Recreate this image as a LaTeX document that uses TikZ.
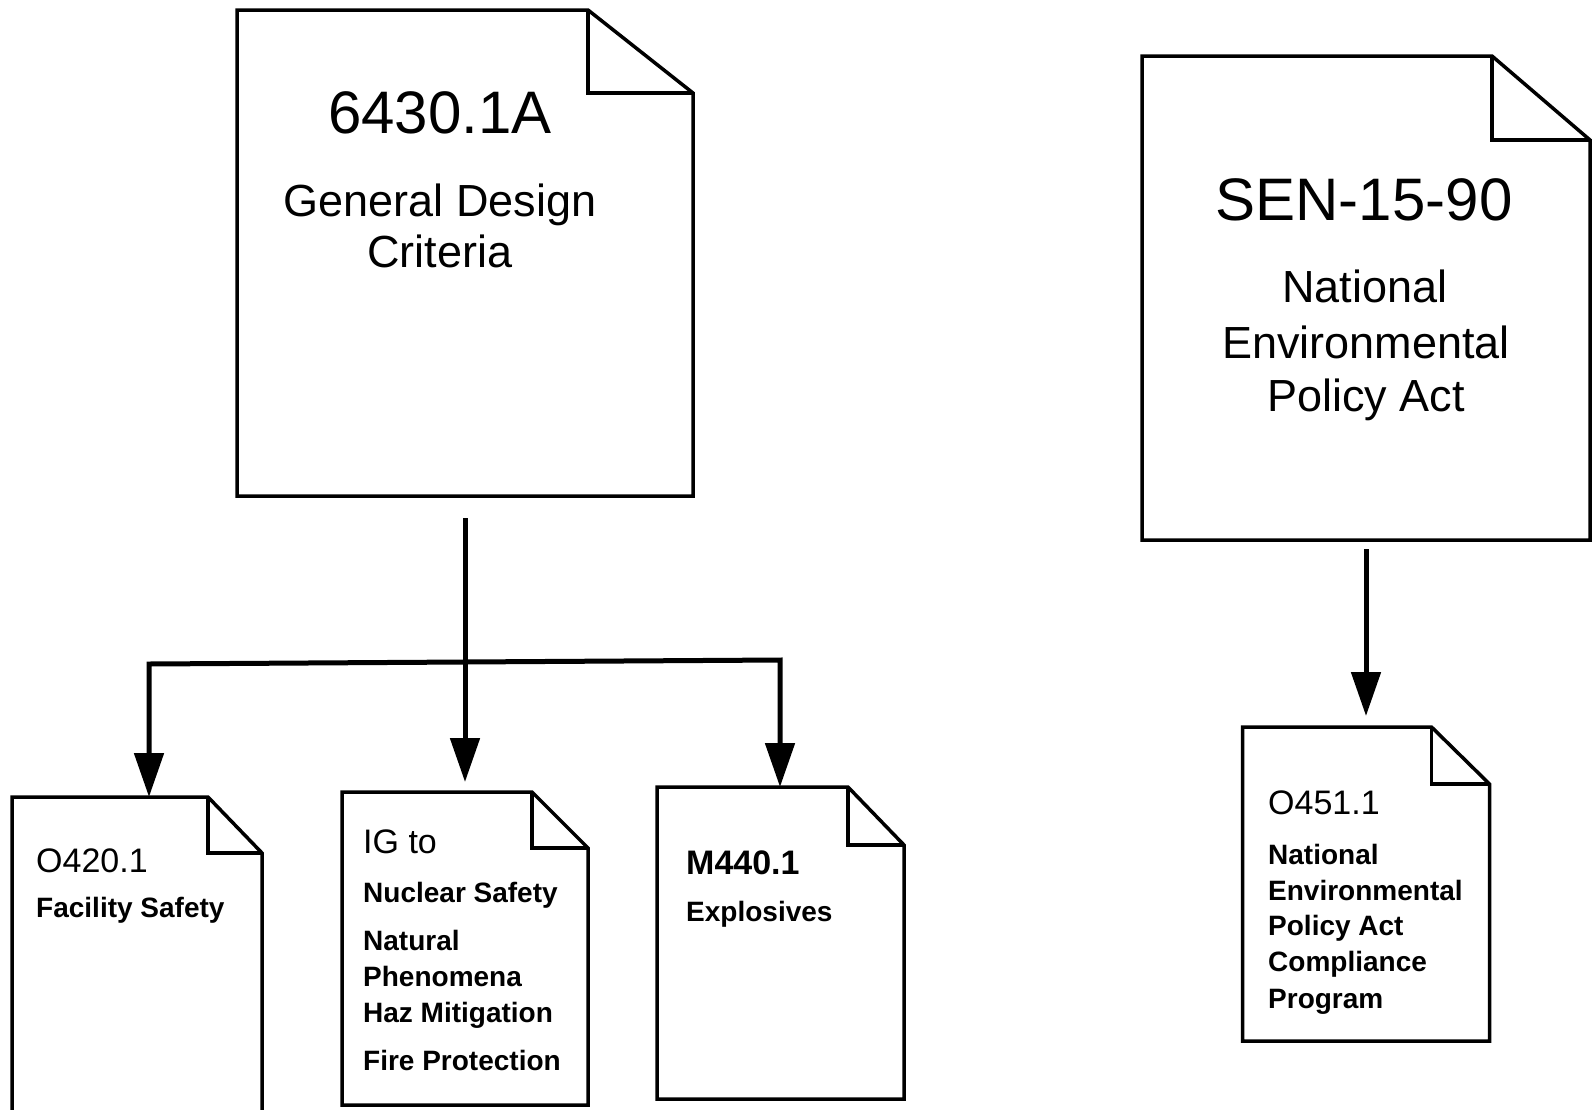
\documentclass[tikz,border=0pt]{standalone}
\usepackage{fontspec}
\setmainfont{Liberation Sans}
\usetikzlibrary{arrows.meta,calc}
\tikzset{
  docline/.style={line width=3.5pt, line join=miter},
  conn/.style={line width=5pt, line join=miter},
  tipshape/.style={},
  arr/.style={conn, -{Triangle[length=44pt,width=29pt]}},
  arrboth/.style={conn, {Triangle[length=44pt,width=29pt]}-{Triangle[length=44pt,width=29pt]}},
  docbox/.style={draw=none, inner sep=0pt, outer sep=0pt},
  bigtitle/.style={font=\fontsize{60}{72}\selectfont, anchor=base, inner sep=0pt},
  bigsub/.style={font=\fontsize{45}{54}\selectfont, anchor=base, inner sep=0pt},
  smalltitle/.style={font=\fontsize{34}{40}\selectfont, anchor=base west, inner sep=0pt},
  smallsub/.style={font=\bfseries\fontsize{28}{34}\selectfont, anchor=base west, inner sep=0pt},
}
\newcommand\mydocpaper[3]{%
  \draw[docline] (#1.north west) -- ($(#1.north east)+(-#2,0)$) -- ($(#1.north east)+(0,#3)$) -- (#1.south east) -- (#1.south west) -- cycle;
  \draw[docline] ($(#1.north east)+(-#2,0)$) -- ($(#1.north east)+(-#2,#3)$) -- ($(#1.north east)+(0,#3)$);}
\begin{document}
\begin{tikzpicture}[x=1pt,y=-1pt]
\useasboundingbox (0,0) rectangle (1593,1109);
% document frames
\node[docbox, minimum width=456pt, minimum height=486pt] (d1) at (465,253) {};
\node[docbox, minimum width=448pt, minimum height=484pt] (d2) at (1366,298) {};
\node[docbox, minimum width=250pt, minimum height=328pt] (o420) at (137,961) {};
\node[docbox, minimum width=246pt, minimum height=313pt] (ig) at (465,948.5) {};
\node[docbox, minimum width=247pt, minimum height=312pt] (m440) at (780.5,943) {};
\node[docbox, minimum width=247pt, minimum height=314pt] (o451) at (1366,884) {};
\mydocpaper{d1}{105}{83}
\mydocpaper{d2}{98}{84}
\mydocpaper{o420}{54}{56}
\mydocpaper{ig}{56}{56}
\mydocpaper{m440}{56}{58}
\mydocpaper{o451}{58}{57}
% texts
\node[bigtitle] (t1a) at (440,133) {6430.1A};
\node[bigsub] (t1b) at (440,216) {General Design};
\node[bigsub] (t1c) at (440,267) {Criteria};
\node[bigtitle] (t2a) at (1364,220) {SEN-15-90};
\node[bigsub] (t2b) at (1365,302) {National};
\node[bigsub] (t2c) at (1366,358) {Environmental};
\node[bigsub] (t2d) at (1366,411) {Policy Act};
\node[smalltitle] (t3a) at (36,872) {O420.1};
\node[smallsub] (t3b) at (36,917) {Facility Safety};
\node[smalltitle] (t4a) at (363,853) {IG to};
\node[smallsub] (t4b) at (363,902) {Nuclear Safety};
\node[smallsub] (t4c) at (363,950) {Natural};
\node[smallsub] (t4d) at (363,986) {Phenomena};
\node[smallsub] (t4e) at (363,1022) {Haz Mitigation};
\node[smallsub] (t4f) at (363,1070) {Fire Protection};
\node[smalltitle, font=\bfseries\fontsize{34}{40}\selectfont] (t5a) at (686,874) {M440.1};
\node[smallsub] (t5b) at (686,921) {Explosives};
\node[smalltitle] (t6a) at (1268,814) {O451.1};
\node[smallsub] (t6b) at (1268,864) {National};
\node[smallsub] (t6c) at (1268,900) {Environmental};
\node[smallsub] (t6d) at (1268,935) {Policy Act};
\node[smallsub] (t6e) at (1268,971) {Compliance};
\node[smallsub] (t6f) at (1268,1008) {Program};
% connectors
\coordinate (busL) at (149,664);
\coordinate (busR) at (780,660);
\draw[arrboth] (busL |- o420.north) -- (busL) -- (busR) -- (busR |- m440.north);
\draw[arr] ($(d1.south)+(0,22)$) -- ($(ig.north)+(0,-10)$);
\draw[arr] ($(d2.south)+(0,9)$) -- ($(o451.north)+(0,-11)$);
\end{tikzpicture}
\end{document}
